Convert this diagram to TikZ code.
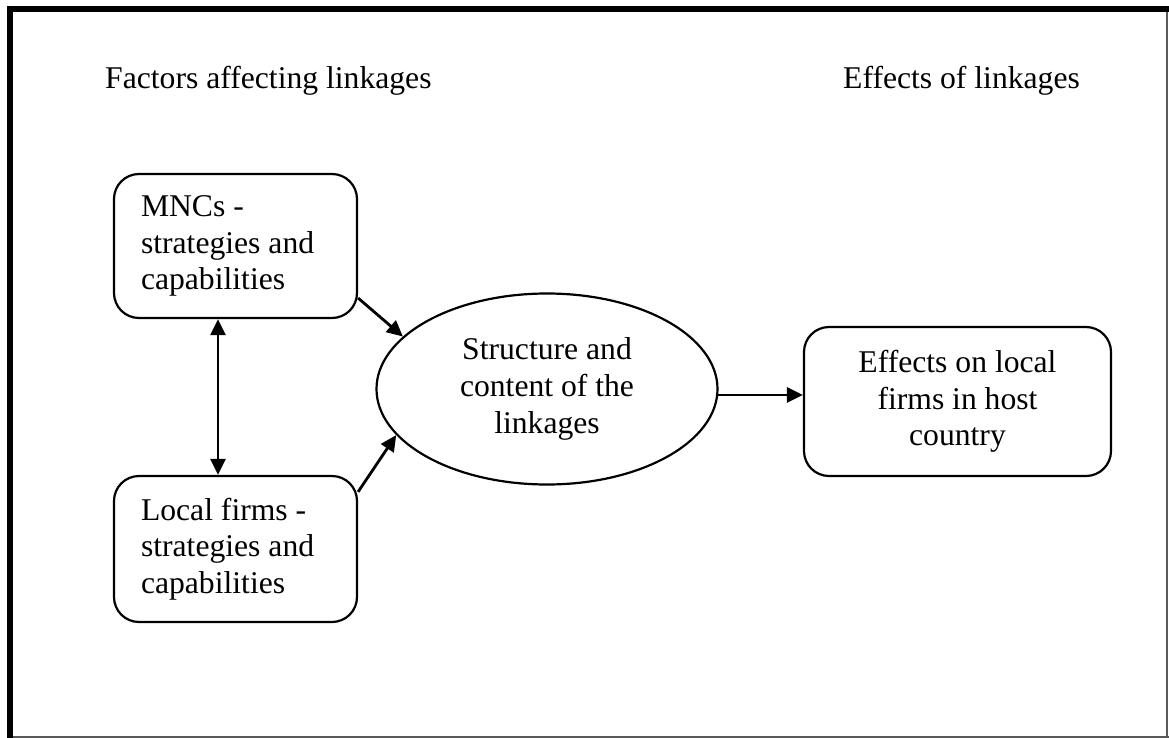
\documentclass[tikz,border=0pt]{standalone}
\usepackage{fontspec}
\setmainfont{Liberation Serif}
\usetikzlibrary{shapes.geometric,arrows.meta}
\begin{document}
\begin{tikzpicture}[x=1pt,y=1pt,
  every node/.style={font=\fontsize{31.65}{36.6}\selectfont},
  roundbox/.style={draw,line width=2.2pt,rounded corners=25pt,inner sep=0pt},
  leftbox/.style={roundbox,minimum width=243pt,text width=189pt,align=flush left},
  oval/.style={draw,ellipse,line width=2.2pt,inner sep=0pt,align=center,
    minimum width=341pt,minimum height=191pt},
  tip/.style={Triangle[length=16pt,width=15pt]},
  link/.style={line width=2.8pt,-{Triangle[length=16pt,width=15pt]}},
  bilink/.style={line width=2.8pt,{Triangle[length=16pt,width=15pt]}-{Triangle[length=16pt,width=15pt]}}]
  % page and frame
  \fill[white] (0,0) rectangle (1169,-738);
  \useasboundingbox (0,0) rectangle (1169,-738);
  \draw[gray!70!black,line width=2pt] (1166.5,-12) -- (1166.5,-738);
  \draw[gray!70!black,line width=2pt] (13,-736.5) -- (1169,-736.5);
  \draw[line width=6pt] (10,-738) -- (10,-9) -- (1169,-9);

  % column headings
  \node[anchor=base west,inner sep=0pt] (hfac) at (105,-89) {Factors affecting linkages};
  \node[anchor=base west,inner sep=0pt] (heff) at (843,-89) {Effects of linkages};

  % boxes
  \node[leftbox,minimum height=144pt] (mnc) at (235.5,-246)
    {MNCs -\\strategies and\\capabilities};
  \node[leftbox,minimum height=146pt] (loc) at (235.5,-549)
    {Local firms -\\strategies and\\capabilities};
  \node[oval] (ell) at (547,-389)
    {Structure and\\content of the\\linkages};
  \node[roundbox,minimum width=307pt,minimum height=149pt,align=center] (eff) at (957.5,-401.5)
    {Effects on local\\firms in host\\country};

  % connectors
  \coordinate (vx) at (218,0);
  \draw[bilink] (vx |- mnc.south) -- (vx |- loc.north);
  \draw[link] (mnc.-23) -- (ell.160);
  \draw[link] (loc.25) -- (ell.197);
  \draw[link] (ell.-2) -- (ell.-2 -| eff.west);
\end{tikzpicture}
\end{document}
